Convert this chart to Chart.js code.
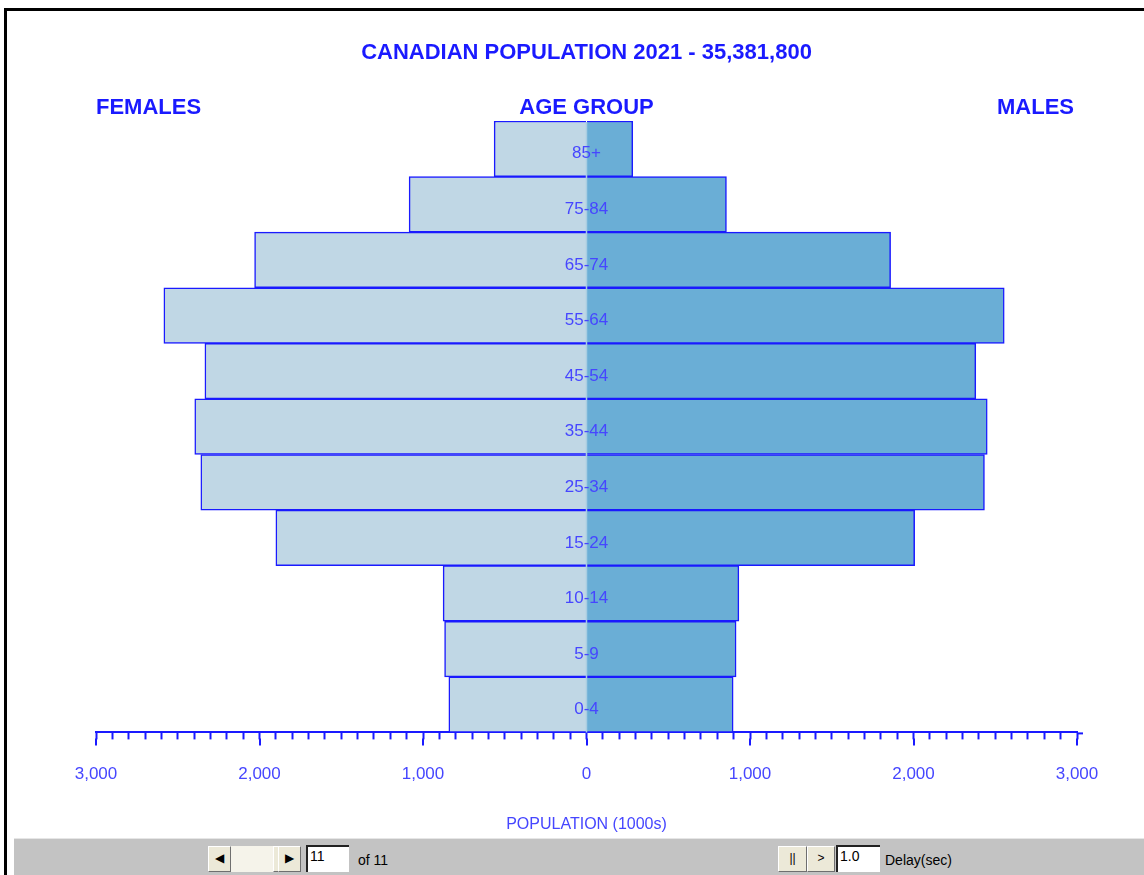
<!DOCTYPE html>
<html>
<head>
<meta charset="utf-8">
<title>Canadian Population 2021</title>
<script src="https://cdn.jsdelivr.net/npm/chart.js@4.4.1/dist/chart.umd.min.js"></script>
<style>
  body { margin: 0; background: #fff; font-family: "Liberation Sans", Arial, sans-serif; overflow: hidden; }
  #frame { position: absolute; left: 4px; top: 8px; width: 1140px; height: 867px;
           border-left: 3px solid #000; border-top: 3px solid #000; }
  #wrap { position: absolute; left: 0; top: 0; width: 1144px; height: 838px; }
  #toolbar { position: absolute; left: 14px; top: 838px; width: 1130px; height: 37px;
             background: #c3c3c3; border-top: 1px solid #e6e6e6; box-sizing: border-box; }
  .btn { position: absolute; top: 7px; height: 26px; box-sizing: border-box; background: #ece9d8;
         border: 1px solid; border-color: #fff #6f6f6f #6f6f6f #fff; font-size: 12px; color: #000;
         text-align: center; line-height: 23px; }
  .track { position: absolute; top: 7px; height: 26px; background: #f5f3ea; box-sizing: border-box; }
  .box { position: absolute; top: 6px; height: 27px; background: #fff; box-sizing: border-box;
         border-top: 2px solid #222; border-left: 2px solid #222; font-size: 14px; padding-left: 2px; line-height: 18px; }
  .lbl { position: absolute; top: 13px; font-size: 14px; color: #000; }
</style>
</head>
<body>
<div id="frame"></div>
<div id="wrap"><canvas id="pyramid" width="1144" height="838"></canvas></div>
<div id="toolbar">
  <div class="btn" style="left:194px;width:23px;">&#9664;</div>
  <div class="track" style="left:217px;width:42px;"></div>
  <div class="btn" style="left:259px;width:6px;"></div>
  <div class="btn" style="left:264px;width:23px;">&#9654;</div>
  <div class="box" style="left:292px;width:43px;">11</div>
  <div class="lbl" style="left:344px;">of 11</div>
  <div class="btn" style="left:764px;width:29px;">||</div>
  <div class="btn" style="left:793px;width:28px;">&gt;</div>
  <div class="box" style="left:822px;width:44px;">1.0</div>
  <div class="lbl" style="left:871px;">Delay(sec)</div>
</div>
<script>
'use strict';

// DATA (population in 1000s)
// ==========================
var ageGroups = ['85+', '75-84', '65-74', '55-64', '45-54', '35-44', '25-34', '15-24', '10-14', '5-9', '0-4'];
var females = [565, 1085, 2030, 2585, 2334, 2396, 2359, 1900, 877, 868, 842];
var males = [283, 856, 1860, 2555, 2381, 2451, 2434, 2007, 932, 915, 897];
var axisMin = -3000;
var axisMax = 3000;
var minorStep = 100;
var majorStep = 1000;

var blue = '#1a1aff';
var softBlue = '#4646ff';
var fontFamily = '"Liberation Sans", Arial, sans-serif';

// draws the centre seam, headings, age labels and the long major ticks
var pyramidText = {
    id: 'pyramidText',
    afterDatasetsDraw: function (chart) {
        // faint seam where the two halves meet
        var ctx = chart.ctx;
        var x = chart.scales.x;
        var y = chart.scales.y;
        var zero = x.getPixelForValue(0);
        ctx.save();
        ctx.strokeStyle = '#a9cde2';
        ctx.lineWidth = 1.5;
        ctx.beginPath();
        ctx.moveTo(zero, y.top + 1);
        ctx.lineTo(zero, y.bottom);
        ctx.stroke();
        ctx.restore();
    },
    afterDraw: function (chart) {
        var ctx = chart.ctx;
        var area = chart.chartArea;
        var x = chart.scales.x;
        var y = chart.scales.y;
        var zero = x.getPixelForValue(0);
        ctx.save();

        // longer ticks on the thousands, axis runs a little past 3,000
        ctx.strokeStyle = blue;
        ctx.lineWidth = 2;
        x.ticks.forEach(function (t, i) {
            if (t.value % majorStep === 0) {
                var px = Math.round(x.getPixelForTick(i));
                ctx.beginPath();
                ctx.moveTo(px, x.top + 6);
                ctx.lineTo(px, x.top + 13);
                ctx.stroke();
            }
        });
        ctx.beginPath();
        ctx.moveTo(x.right, x.top + 1);
        ctx.lineTo(x.right + 6, x.top + 1);
        ctx.stroke();

        // column headings
        ctx.fillStyle = blue;
        ctx.font = 'bold 22px ' + fontFamily;
        ctx.textBaseline = 'middle';
        ctx.textAlign = 'left';
        ctx.fillText('FEMALES', area.left, area.top - 13);
        ctx.textAlign = 'right';
        ctx.fillText('MALES', area.right - 3, area.top - 13);
        ctx.textAlign = 'center';
        ctx.fillText('AGE GROUP', zero, area.top - 13);

        // age group labels on the centre line
        ctx.fillStyle = softBlue;
        ctx.font = '17px ' + fontFamily;
        ageGroups.forEach(function (g, i) {
            ctx.fillText(g, zero, y.getPixelForValue(i) + 5);
        });
        ctx.restore();
    }
};

var init = function () {
    var ctx = document.getElementById('pyramid');
    new Chart(ctx, {
        type: 'bar',
        data: {
            labels: ageGroups,
            datasets: [{
                label: 'Females',
                data: females.map(function (v) { return -v; }),
                backgroundColor: '#c0d7e5',
                borderColor: blue,
                borderWidth: 1.5,
                barPercentage: 1,
                categoryPercentage: 1
            }, {
                label: 'Males',
                data: males,
                backgroundColor: '#6aaed6',
                borderColor: blue,
                borderWidth: 1.5,
                barPercentage: 1,
                categoryPercentage: 1
            }]
        },
        options: {
            indexAxis: 'y',
            responsive: false,
            animation: false,
            layout: {
                padding: { left: 96, right: 67, top: 0, bottom: 4 }
            },
            plugins: {
                legend: { display: false },
                tooltip: { enabled: false },
                title: {
                    display: true,
                    text: 'CANADIAN POPULATION 2021 - 35,381,800',
                    color: blue,
                    font: { family: fontFamily, size: 22, weight: 'bold' },
                    padding: { top: 40, bottom: 54.6 }
                }
            },
            scales: {
                x: {
                    stacked: true,
                    min: axisMin,
                    max: axisMax,
                    border: { display: true, color: blue, width: 2 },
                    grid: {
                        drawOnChartArea: false,
                        drawTicks: true,
                        tickLength: 7,
                        tickColor: blue,
                        tickWidth: 2
                    },
                    ticks: {
                        stepSize: minorStep,
                        autoSkip: false,
                        maxRotation: 0,
                        padding: 25,
                        color: softBlue,
                        font: { family: fontFamily, size: 17 },
                        callback: function (v) {
                            return v % majorStep === 0 ? Math.abs(v).toLocaleString('en-US') : '';
                        }
                    },
                    title: {
                        display: true,
                        text: 'POPULATION (1000s)',
                        color: softBlue,
                        font: { family: fontFamily, size: 16 },
                        padding: { top: 5, bottom: 0 }
                    }
                },
                y: {
                    stacked: true,
                    display: false
                }
            }
        },
        plugins: [pyramidText]
    });
};

init();
</script>
</body>
</html>
